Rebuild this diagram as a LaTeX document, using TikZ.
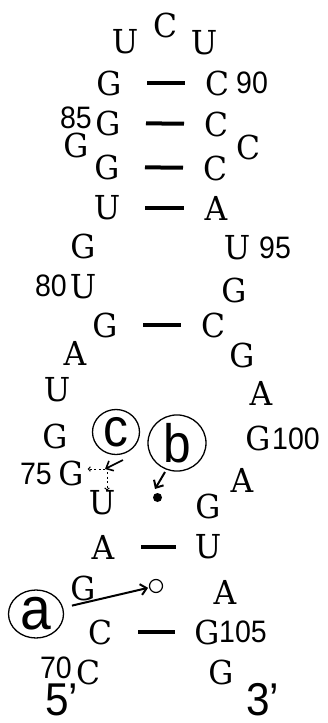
\documentclass[tikz,border=0pt]{standalone}
\usepackage{fontspec}
\setmainfont{DejaVu Serif}
\newfontfamily\basefont[FakeStretch=0.95]{DejaVu Serif}
\newfontfamily\numfont[FakeStretch=0.92]{Liberation Sans}
\usetikzlibrary{arrows.meta,shapes.geometric}

\begin{document}
\begin{tikzpicture}[x=1pt,y=-1pt,
  nt/.style={inner sep=0pt, font=\basefont\fontsize{33}{33}\selectfont},
  num/.style={inner sep=0pt, font=\numfont\fontsize{31}{31}\selectfont},
  endlab/.style={inner sep=0pt, anchor=base west, font=\numfont\fontsize{46}{46}\selectfont},
  pair/.style={line width=4pt, shorten <=38pt, shorten >=32pt, yshift=3.5pt},
  tag/.style={draw, ellipse, line width=1.3pt, inner sep=0pt,
              font=\numfont\fontsize{54}{54}\selectfont},
  ptr/.style={line width=2pt, -{Straight Barb[length=6pt,width=11pt]}},
  hint/.style={line width=1pt, dash pattern=on 2pt off 2.5pt,
               -{Straight Barb[length=2pt,width=4.5pt]}}
]
\useasboundingbox (0,0) rectangle (327,723);

% 5' strand
\node[nt] (c70) at (88,672) {C};
\node[nt] (c71) at (100,632) {C};
\node[nt] (g72) at (83,588) {G};
\node[nt] (a73) at (103,547) {A};
\node[nt] (u74) at (102,503) {U};
\node[nt] (g75) at (71,473) {G};
\node[nt] (g76) at (55,436) {G};
\node[nt] (u77) at (57,390) {U};
\node[nt] (a78) at (75,353) {A};
\node[nt] (g79) at (105,325) {G};
\node[nt] (u80) at (83,287) {U};
\node[nt] (g81) at (83,246) {G};
\node[nt] (u82) at (107,208) {U};
\node[nt] (g83) at (107,167) {G};
\node[nt] (g84) at (76,145) {G};
\node[nt] (g85) at (108,123) {G};
\node[nt] (g86) at (109,83) {G};
% loop
\node[nt] (u87) at (125,42) {U};
\node[nt] (c88) at (165,25) {C};
\node[nt] (u89) at (204,43) {U};
% 3' strand
\node[nt] (c90) at (217,83) {C};
\node[nt] (c91) at (216,124) {C};
\node[nt] (c92) at (248,147) {C};
\node[nt] (c93) at (215,168) {C};
\node[nt] (a94) at (216,208) {A};
\node[nt] (u95) at (237,248) {U};
\node[nt] (g96) at (234,290) {G};
\node[nt] (c97) at (213,325) {C};
\node[nt] (g98) at (242,355) {G};
\node[nt] (a99) at (261,393) {A};
\node[nt] (g100) at (258,438) {G};
\node[nt] (a101) at (242,480) {A};
\node[nt] (g102) at (208,506) {G};
\node[nt] (u103) at (208,547) {U};
\node[nt] (a104) at (225,592) {A};
\node[nt] (g105) at (207,632) {G};
\node[nt] (g106) at (221,672) {G};

% position numbers
\node[num, anchor=west] (n90) at (236,83) {90};
\node[num, anchor=east] (n85) at (92,118) {85};
\node[num, anchor=west] (n95) at (259,248) {95};
\node[num, anchor=east] (n80) at (67,286) {80};
\node[num, anchor=west] (n100) at (272,439) {100};
\node[num, anchor=east] (n75) at (52,474) {75};
\node[num, anchor=west] (n105) at (219,632) {105};
\node[num, anchor=east] (n70) at (72,668) {70};

% strand ends
\node[endlab] (five) at (45,715) {5’};
\node[endlab] (three) at (246,715) {3’};

% Watson-Crick pairs
\draw[pair] (g86.center) -- (c90.center);
\draw[pair] (g85.center) -- (c91.center);
\draw[pair] (g83.center) -- (c93.center);
\draw[pair] (u82.center) -- (a94.center);
\draw[pair] (g79.center) -- (c97.center);
\draw[pair] (a73.center) -- (u103.center);
\draw[pair] (c71.center) -- (g105.center);

% non-canonical pair markers
\node[circle, draw, line width=1.2pt, minimum size=13pt, inner sep=0pt] (wob) at (156,586) {};
\node[circle, fill, minimum size=9pt, inner sep=0pt] (dot) at (157.5,497.5) {};

% labelled callouts
\node[tag, minimum width=55pt, minimum height=48pt, font=\numfont\fontsize{60}{60}\selectfont] (ta) at (36,614) {a};
\node[tag, minimum width=58pt, minimum height=47pt] (tb) at (177,443) {b};
\node[tag, minimum width=47pt, minimum height=45pt] (tc) at (116,432) {\raisebox{-2pt}{c}};

\draw[ptr, shorten <=9pt, shorten >=1pt] (ta) -- (wob);

\coordinate (bs) at (165,472);
\coordinate (be) at (155,489);
\draw[ptr] (bs) -- (be);

\coordinate (cs) at (123,460);
\coordinate (hub) at (105,469);
\draw[ptr, line width=1.6pt] (cs) -- (hub);
\draw[hint, shorten >=4pt] (hub) -- (hub -| g75.east);
\draw[hint] ([xshift=2pt,yshift=-3pt]hub) -- ([xshift=2pt]hub |- u74.north);
\end{tikzpicture}
\end{document}
